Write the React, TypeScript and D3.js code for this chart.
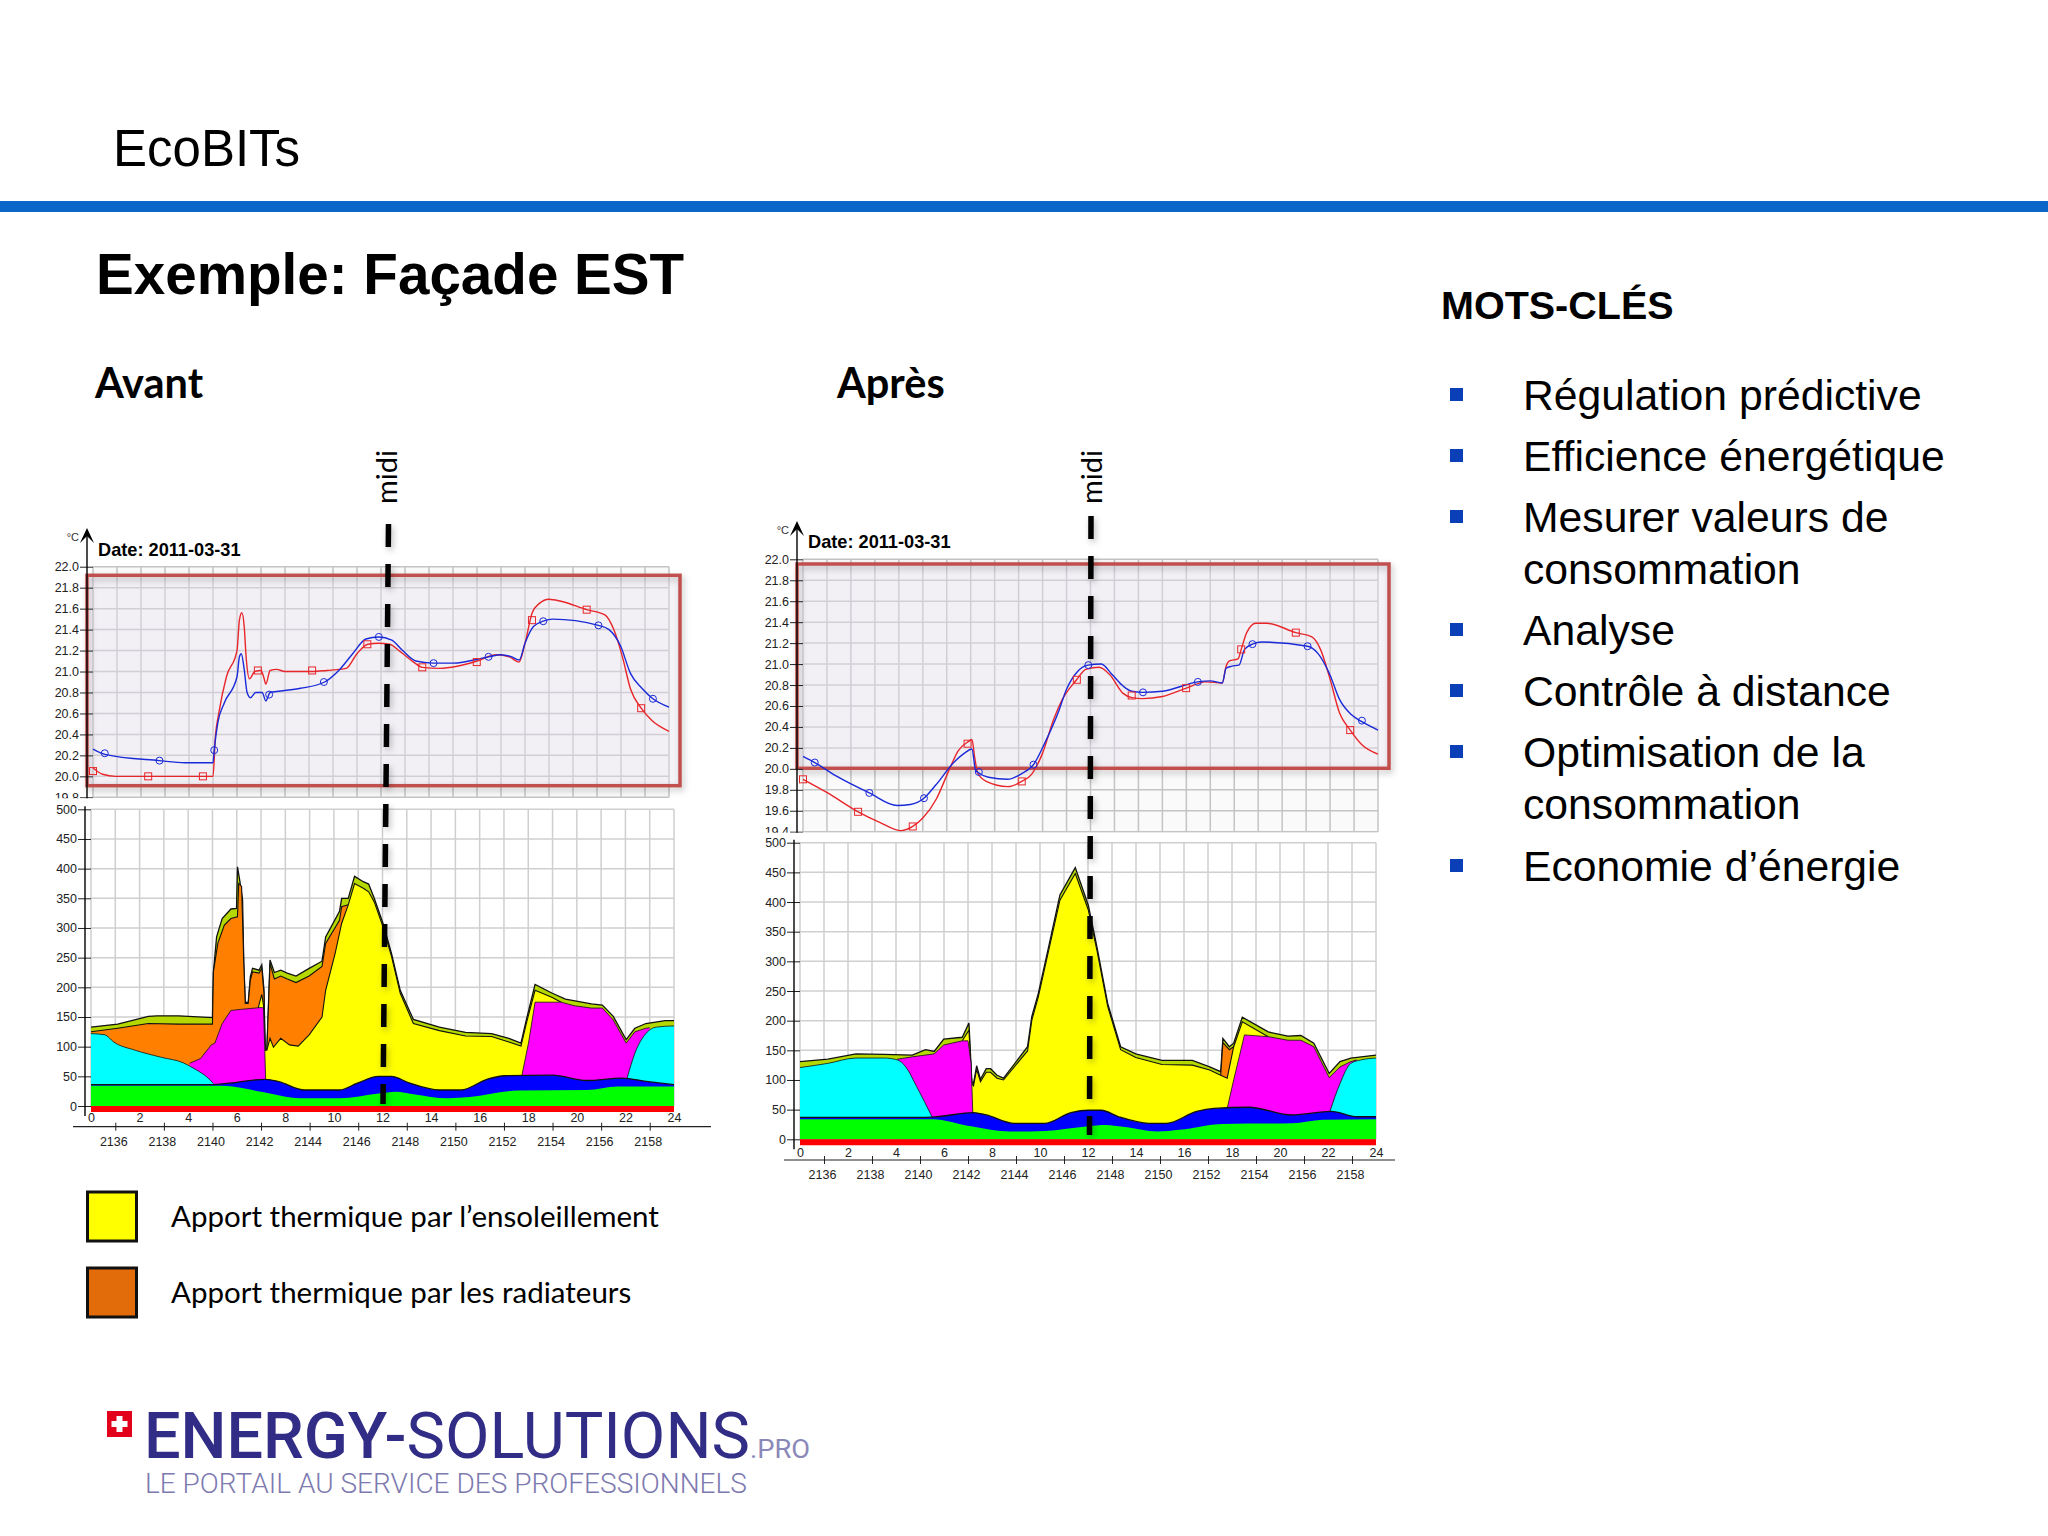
import { useEffect, useRef } from "react"
import * as d3 from "d3"

type Pt = [number, number]

// Temperature curves, [hour, deg C]
const avantRed: Pt[] = [[0,20.08],[0.4,20.02],[0.94,20.0],[5.0,20.0],[5.1,20.38],[5.24,20.6],[5.56,20.95],[6,21.2],[6.1,21.49],[6.2,21.56],[6.3,21.43],[6.38,21.14],[6.52,20.93],[6.74,21.0],[7.0,21.01],[7.12,20.94],[7.2,20.88],[7.38,21.01],[7.65,21.02],[8.0,21.0],[9.13,21.0],[9.73,21.01],[10.55,21.03],[11,21.17],[11.45,21.26],[11.9,21.27],[12.36,21.26],[12.8,21.19],[13.36,21.09],[13.72,21.04],[14.45,21.03],[15.17,21.05],[16,21.1],[16.8,21.16],[17.35,21.14],[17.75,21.09],[18,21.27],[18.3,21.56],[18.6,21.65],[19,21.69],[19.5,21.67],[20.57,21.59],[21.33,21.54],[21.7,21.4],[22.06,21.14],[22.4,20.83],[22.84,20.65],[23.3,20.53],[24,20.43]]
const avantBlue: Pt[] = [[0,20.26],[0.5,20.21],[2.75,20.15],[3.84,20.13],[5,20.13],[5.05,20.25],[5.2,20.51],[5.47,20.7],[6,20.95],[6.1,21.14],[6.18,21.17],[6.3,21.02],[6.42,20.8],[6.56,20.75],[6.78,20.8],[7.05,20.8],[7.2,20.72],[7.38,20.8],[7.65,20.81],[8.65,20.84],[9.65,20.9],[10.28,21.02],[10.82,21.17],[11.37,21.31],[11.9,21.33],[12.45,21.3],[12.9,21.2],[13.45,21.1],[14.17,21.08],[15,21.08],[16.48,21.14],[17,21.16],[17.45,21.14],[17.76,21.11],[18,21.27],[18.35,21.43],[18.76,21.48],[19.15,21.5],[21.06,21.44],[21.5,21.4],[21.97,21.25],[22.4,20.98],[22.87,20.84],[23.33,20.74],[24,20.66]]
const apresRed: Pt[] = [[0,19.9],[1.03,19.77],[2.3,19.59],[3.2,19.49],[4.1,19.41],[4.58,19.45],[5.0,19.53],[5.56,19.71],[6.1,19.99],[6.47,20.17],[6.9,20.26],[7.05,20.28],[7.16,20.12],[7.29,19.96],[7.65,19.88],[8.55,19.83],[9.13,19.88],[9.55,19.95],[10,20.15],[10.46,20.47],[10.82,20.66],[11.42,20.85],[11.8,20.95],[12.36,20.97],[12.8,20.9],[13.36,20.72],[13.72,20.68],[14.17,20.67],[15,20.69],[16,20.77],[16.8,20.83],[17.5,20.82],[17.66,20.98],[17.8,21.03],[18.16,21.05],[18.29,21.14],[18.52,21.3],[18.9,21.39],[19.35,21.39],[20.57,21.3],[21.24,21.26],[21.6,21.14],[21.97,20.88],[22.4,20.53],[22.84,20.37],[23.33,20.23],[24,20.14]]
const apresBlue: Pt[] = [[0,20.12],[0.49,20.06],[1.4,19.93],[2.77,19.77],[3.93,19.65],[4.48,19.66],[5.05,19.72],[5.56,19.85],[6.29,20.06],[6.74,20.15],[7.05,20.19],[7.2,19.99],[7.34,19.96],[7.74,19.92],[8.55,19.9],[9.1,19.95],[9.62,20.04],[10.1,20.25],[10.64,20.53],[11,20.76],[11.46,20.93],[11.9,20.99],[12.45,21.0],[12.9,20.9],[13.36,20.79],[13.72,20.74],[14.17,20.73],[15,20.74],[16.48,20.83],[17,20.84],[17.5,20.82],[17.66,20.96],[17.9,20.98],[18.2,20.99],[18.43,21.14],[18.76,21.19],[19.15,21.21],[21.06,21.17],[21.5,21.1],[21.97,20.91],[22.4,20.66],[22.87,20.52],[23.33,20.45],[24,20.37]]

// Marker positions along the curves
const redMarkerHours = [0, 2.3, 4.58, 6.87, 9.13, 11.43, 13.72, 15.99, 18.29, 20.57, 22.84]
const blueMarkerHours = [0.49, 2.77, 5.05, 7.34, 9.62, 11.91, 14.19, 16.48, 18.76, 21.06, 23.33]
const avantRedMarkers = [20.05, 20.0, 20.0, 21.01, 21.01, 21.26, 21.04, 21.09, 21.49, 21.59, 20.65]
const avantBlueMarkers = [20.22, 20.15, 20.25, 20.78, 20.9, 21.33, 21.08, 21.14, 21.48, 21.44, 20.74]
const apresRedMarkers = [19.9, 19.59, 19.45, 20.24, 19.88, 20.85, 20.7, 20.77, 21.14, 21.3, 20.37]
const apresBlueMarkers = [20.06, 19.77, 19.72, 19.97, 20.04, 20.99, 20.73, 20.83, 21.19, 21.17, 20.46]

// Energy layers, [hour, cumulated top value]
const avantTotal: Pt[] = [[0,133],[1.1,138],[2.36,151],[2.72,152],[3.61,152],[5.0,149],[5.04,226],[5.17,285],[5.4,316],[5.76,332],[5.99,333],[6.03,403],[6.12,381],[6.24,347],[6.29,240],[6.35,176],[6.47,173],[6.56,218],[6.65,232],[6.92,229],[7.03,238],[7.12,196],[7.17,94],[7.24,94],[7.37,246],[7.55,225],[7.81,229],[8.08,224],[8.44,219],[8.98,232],[9.51,244],[9.66,285],[10.23,328],[10.32,350],[10.59,350],[10.85,387],[11.21,378],[11.43,374],[11.66,350],[12.02,308],[12.37,257],[12.73,195],[13.27,146],[14.34,133],[15.42,124],[16.49,122],[17.2,114],[17.7,106],[17.92,145],[18.28,205],[18.99,190],[19.53,180],[20.6,172],[21.05,170],[21.5,151],[22.03,112],[22.39,131],[22.84,139],[23.64,144],[24,144]]
const avantOrange: Pt[] = [[0,125],[1.1,131],[2.36,139],[3.61,138],[5,138],[5.04,226],[5.22,274],[5.49,305],[5.76,316],[6.03,319],[6.08,375],[6.2,370],[6.29,240],[6.35,173],[6.47,173],[6.56,212],[6.65,226],[6.92,224],[7.03,232],[7.12,190],[7.17,94],[7.24,94],[7.37,240],[7.55,214],[7.81,219],[8.08,214],[8.44,208],[8.98,219],[9.51,235],[9.66,274],[10.23,313],[10.32,336],[10.59,339]]
const avantYellow: Pt[] = [[6.88,165],[7.03,188],[7.1,170],[7.17,94],[7.24,94],[7.37,114],[7.51,99],[7.81,114],[8.17,103],[8.53,101],[8.98,120],[9.51,150],[9.66,195],[10.05,257],[10.32,308],[10.59,339],[10.85,375],[11.21,367],[11.43,361],[11.66,344],[12.02,302],[12.37,252],[12.73,190],[13.27,139],[14.34,127],[15.42,118],[16.49,117],[17.2,108],[17.7,101],[17.92,139],[18.28,195],[18.99,183],[19.35,175]]
const avantMagenta1: Pt[] = [[4.06,72],[4.51,80],[4.95,103],[5.1,106],[5.4,139],[5.76,161],[6.2,163],[7.01,166],[7.1,165],[7.15,100],[7.19,44]]
const avantMagenta2: Pt[] = [[17.74,52],[18.01,106],[18.28,175],[19.35,175],[19.89,169],[20.6,165],[21.05,165],[21.5,145],[22.03,106],[22.39,125],[22.84,131],[23,132]]
const avantCyan1: Pt[] = [[0,122],[0.57,120],[0.93,108],[1.82,94],[2.9,82],[3.79,73],[4.33,61],[4.77,49],[5.04,38]]
const avantCyan2: Pt[] = [[22.07,47],[22.39,89],[22.84,122],[23.28,133],[24,135]]
const avantDarkBlue: Pt[] = [[0,36],[5,36],[5.58,38],[7.19,45],[7.73,41],[8.8,27],[10.23,27],[10.94,38],[11.84,50],[12.37,50],[13.09,39],[14.34,27],[15.24,27],[16.3,45],[17.02,51],[18.99,52],[20.42,43],[21.85,47],[22.93,41],[24,36]]
const avantGreen: Pt[] = [[0,34],[5.4,34],[7.01,24],[8.62,13],[10.23,13],[11.84,21],[12.55,24],[13.27,20],[14.7,13],[15.59,15],[17.56,26],[20.42,27],[21.67,33],[24,33]]

const apresTotal: Pt[] = [[0,131],[1.16,135],[2.33,144],[3.51,143],[4.68,142],[5.23,151],[5.59,148],[5.99,169],[6.76,172],[7.04,196],[7.16,97],[7.23,94],[7.36,124],[7.52,101],[7.76,119],[7.94,119],[8.21,108],[8.48,103],[9.48,156],[9.66,207],[9.93,246],[10.38,328],[10.83,412],[11.47,458],[12.01,395],[12.37,325],[12.82,229],[13.36,156],[13.99,144],[15.08,133],[16.35,133],[17.07,122],[17.53,114],[17.62,170],[17.89,156],[18.07,162],[18.43,206],[19.51,181],[20.33,174],[20.87,175],[21.41,162],[22.05,111],[22.5,131],[22.95,137],[24,142]]
const apresOrange: Pt[] = [[17.53,108],[17.62,163],[17.89,151],[18.07,156],[18.2,170]]
const apresYellow: Pt[] = [[6.76,166],[7.04,184],[7.16,93],[7.23,90],[7.36,118],[7.52,97],[7.76,113],[7.94,113],[8.21,103],[8.48,100],[9.48,149],[9.66,201],[9.93,240],[10.38,322],[10.83,403],[11.47,448],[12.01,387],[12.37,319],[12.82,224],[13.36,151],[13.99,138],[15.08,126],[16.35,125],[17.07,117],[17.53,108],[17.8,103],[18.07,156],[18.43,198],[19.51,173]]
const apresMagenta1: Pt[] = [[4.05,135],[4.68,139],[5.59,144],[5.99,159],[6.76,166],[7.0,166],[7.13,128],[7.2,44]]
const apresMagenta2: Pt[] = [[17.8,52],[18.07,100],[18.52,176],[19.51,173],[20.33,167],[20.87,167],[21.41,156],[22.05,104],[22.5,122],[22.95,131],[23.2,134]]
const apresCyan1: Pt[] = [[0,121],[1.16,128],[2.33,137],[3.51,137],[4.05,134],[4.41,122],[4.86,89],[5.5,38]]
const apresCyan2: Pt[] = [[22.08,47],[22.5,94],[22.95,128],[23.4,134],[24,137]]
const apresDarkBlue: Pt[] = [[0,37],[5.13,37],[5.68,38],[7.22,45],[7.76,41],[8.93,27],[10.2,27],[11.29,45],[12.01,49],[12.55,49],[13.28,38],[14.54,27],[15.27,27],[16.53,47],[17.25,52],[18.7,54],[20.51,41],[22.14,47],[23.22,38],[24,38]]
const apresGreen: Pt[] = [[0,34],[5.5,34],[7.13,22],[8.75,13],[10.2,14],[12.01,22],[12.73,24],[13.46,21],[14.9,13],[15.81,16],[17.62,26],[20.51,27],[21.78,33],[24,34]]

const baseBand: Pt[] = [[0,-10],[24,-10]]

const tempTicks = [19.4, 19.6, 19.8, 20.0, 20.2, 20.4, 20.6, 20.8, 21.0, 21.2, 21.4, 21.6, 21.8, 22.0]
const energyTicks = [0, 50, 100, 150, 200, 250, 300, 350, 400, 450, 500]
const evenHours = [0, 2, 4, 6, 8, 10, 12, 14, 16, 18, 20, 22, 24]
const oddHours = [1, 3, 5, 7, 9, 11, 13, 15, 17, 19, 21, 23]
const indexLabels = ["2136", "2138", "2140", "2142", "2144", "2146", "2148", "2150", "2152", "2154", "2156", "2158"]
const allHours = d3.range(0, 25)

const keywords = [
  { lines: ["Régulation prédictive"], y: 410 },
  { lines: ["Efficience énergétique"], y: 471 },
  { lines: ["Mesurer valeurs de", "consommation"], y: 532 },
  { lines: ["Analyse"], y: 645 },
  { lines: ["Contrôle à distance"], y: 706 },
  { lines: ["Optimisation de la", "consommation"], y: 767 },
  { lines: ["Economie d’énergie"], y: 881 },
]

const SANS = "'Liberation Sans', Arial, sans-serif"
const LATO = "Lato, sans-serif"

const layerColors = {
  total: "#b4d800",
  orange: "#ff8000",
  yellow: "#ffff00",
  magenta: "#ff00ff",
  cyan: "#00ffff",
  blue: "#0000ff",
  green: "#00ff00",
  red: "#ff0000",
}

function drawPanel(svg: any, p: any) {
  const g = svg.append("g")

  // temperature plot
  const xT = d3.scaleLinear().domain([0, 24]).range([p.tLeft, p.tRight])
  const yT = d3.scaleLinear().domain([p.tMin, 22]).range([p.tBottom, p.tTop])
  const ticksT = tempTicks.filter((t) => t >= p.tMin)

  g.append("rect")
    .attr("x", p.tLeft)
    .attr("y", p.tTop)
    .attr("width", p.tRight - p.tLeft)
    .attr("height", p.tBottom - p.tTop)
    .attr("fill", "#fafafb")

  g.append("g")
    .selectAll("line")
    .data(allHours)
    .enter()
    .append("line")
    .attr("x1", (d: number) => xT(d))
    .attr("x2", (d: number) => xT(d))
    .attr("y1", p.tTop)
    .attr("y2", p.tBottom)
    .attr("stroke", "#c4c4c4")
    .attr("stroke-width", 1.5)
  g.append("g")
    .selectAll("line")
    .data(ticksT)
    .enter()
    .append("line")
    .attr("x1", p.tLeft)
    .attr("x2", p.tRight)
    .attr("y1", (d: number) => yT(d))
    .attr("y2", (d: number) => yT(d))
    .attr("stroke", "#c4c4c4")
    .attr("stroke-width", 1.5)

  // highlighted band with the red frame
  g.append("rect")
    .attr("x", p.frame[0])
    .attr("y", p.frame[1])
    .attr("width", p.frame[2] - p.frame[0])
    .attr("height", p.frame[3] - p.frame[1])
    .attr("fill", "#e6e0ee")
    .attr("fill-opacity", 0.4)
  g.append("rect")
    .attr("x", p.frame[0])
    .attr("y", p.frame[1])
    .attr("width", p.frame[2] - p.frame[0])
    .attr("height", p.frame[3] - p.frame[1])
    .attr("fill", "none")
    .attr("stroke", "#c0504d")
    .attr("stroke-width", 3.5)
    .attr("filter", "url(#soft)")

  const line = d3
    .line<Pt>()
    .x((d) => xT(d[0]))
    .y((d) => yT(d[1]))
    .curve(d3.curveMonotoneX)
  g.append("path").datum(p.red).attr("d", line).attr("fill", "none").attr("stroke", "#e8262a").attr("stroke-width", 1.4)
  g.append("path").datum(p.blue).attr("d", line).attr("fill", "none").attr("stroke", "#1a2ad8").attr("stroke-width", 1.4)

  g.append("g")
    .selectAll("rect")
    .data(p.redMarkers)
    .enter()
    .append("rect")
    .attr("x", (_: number, i: number) => xT(redMarkerHours[i]) - 3.5)
    .attr("y", (d: number) => yT(d) - 3.5)
    .attr("width", 7)
    .attr("height", 7)
    .attr("fill", "none")
    .attr("stroke", "#e8262a")
    .attr("stroke-width", 1)
  g.append("g")
    .selectAll("ellipse")
    .data(p.blueMarkers)
    .enter()
    .append("ellipse")
    .attr("cx", (_: number, i: number) => xT(blueMarkerHours[i]))
    .attr("cy", (d: number) => yT(d))
    .attr("rx", 3.5)
    .attr("ry", 3.5)
    .attr("fill", "none")
    .attr("stroke", "#1a2ad8")
    .attr("stroke-width", 1)

  const axT = g
    .append("g")
    .attr("transform", `translate(${p.tLeft},0)`)
    .call(
      d3
        .axisLeft(yT)
        .tickValues(ticksT)
        .tickSize(13)
        .tickPadding(1)
        .tickFormat((d: any) => d3.format(".1f")(d)),
    )
  axT.select(".domain").remove()
  axT.selectAll("line").attr("stroke", "#222")
  axT.selectAll("text").attr("font-family", SANS).attr("font-size", 12.5).attr("fill", "#222")

  // covers the clipped last tick label, as in the source image
  g.append("rect")
    .attr("x", p.tAxis - 45)
    .attr("y", p.tBottom + 1)
    .attr("width", p.tRight - p.tAxis + 80)
    .attr("height", p.eTop - p.tBottom - 1)
    .attr("fill", "#fff")

  g.append("line")
    .attr("x1", p.tAxis)
    .attr("x2", p.tAxis)
    .attr("y1", p.arrowTop + 6)
    .attr("y2", p.tBottom + 1)
    .attr("stroke", "#000")
    .attr("stroke-width", 1.4)
  g.append("path")
    .attr("d", `M${p.tAxis - 7},${p.arrowTop + 15}L${p.tAxis},${p.arrowTop}L${p.tAxis + 7},${p.arrowTop + 15}L${p.tAxis},${p.arrowTop + 8}Z`)
    .attr("fill", "#000")
  g.append("text")
    .attr("x", p.tAxis - 8)
    .attr("y", p.arrowTop + 13)
    .attr("text-anchor", "end")
    .attr("font-family", SANS)
    .attr("font-size", 11)
    .attr("fill", "#333")
    .text("°C")
  g.append("text")
    .attr("x", p.tAxis + 11)
    .attr("y", p.dateY)
    .attr("font-family", SANS)
    .attr("font-weight", "bold")
    .attr("font-size", 18.2)
    .text("Date: 2011-03-31")

  // energy plot
  const xE = d3.scaleLinear().domain([0, 24]).range([p.eLeft, p.eRight])
  const yE = d3.scaleLinear().domain([0, 500]).range([p.eZero, p.eTop])

  g.append("g")
    .selectAll("line")
    .data(allHours)
    .enter()
    .append("line")
    .attr("x1", (d: number) => xE(d))
    .attr("x2", (d: number) => xE(d))
    .attr("y1", p.eTop)
    .attr("y2", p.eZero)
    .attr("stroke", "#cfcfcf")
    .attr("stroke-width", 1.5)
  g.append("g")
    .selectAll("line")
    .data(energyTicks)
    .enter()
    .append("line")
    .attr("x1", p.eLeft)
    .attr("x2", p.eRight)
    .attr("y1", (d: number) => yE(d))
    .attr("y2", (d: number) => yE(d))
    .attr("stroke", "#cfcfcf")
    .attr("stroke-width", 1.5)

  p.layers.forEach((l: { data: Pt[]; color: string; outline: number; smooth?: boolean }) => {
    const curve = l.smooth ? d3.curveMonotoneX : d3.curveLinear
    const area = d3
      .area<Pt>()
      .x((d) => xE(d[0]))
      .y0(yE(0))
      .y1((d) => yE(d[1]))
      .curve(curve)
    const topLine = d3
      .line<Pt>()
      .x((d) => xE(d[0]))
      .y((d) => yE(d[1]))
      .curve(curve)
    g.append("path").datum(l.data).attr("d", area).attr("fill", l.color)
    g.append("path").datum(l.data).attr("d", topLine).attr("fill", "none").attr("stroke", "#111").attr("stroke-width", l.outline)
  })

  g.append("path")
    .datum(baseBand)
    .attr(
      "d",
      d3
        .area<Pt>()
        .x((d) => xE(d[0]))
        .y0(yE(0))
        .y1((d) => yE(d[1])),
    )
    .attr("fill", layerColors.red)

  const axE = g
    .append("g")
    .attr("transform", `translate(${p.eLeft},0)`)
    .call(d3.axisLeft(yE).tickValues(energyTicks).tickSize(13).tickPadding(1))
  axE.select(".domain").remove()
  axE.selectAll("line").attr("stroke", "#222")
  axE.selectAll("text").attr("font-family", SANS).attr("font-size", 12.5).attr("fill", "#222")

  g.append("line")
    .attr("x1", p.eAxis)
    .attr("x2", p.eAxis)
    .attr("y1", p.eTop - 3)
    .attr("y2", p.eZero + 10)
    .attr("stroke", "#000")
    .attr("stroke-width", 1.4)

  // hours just under the band, run indexes under the axis line
  const axHours = g
    .append("g")
    .attr("transform", `translate(0,${p.hoursY})`)
    .call(d3.axisBottom(xE).tickValues(evenHours).tickSize(0).tickPadding(0).tickFormat((d: any) => `${d}`))
  axHours.select(".domain").remove()
  axHours.selectAll("text").attr("font-family", SANS).attr("font-size", 12.5).attr("fill", "#222")

  const axIndex = g
    .append("g")
    .attr("transform", `translate(0,${p.indexAxisY})`)
    .call(
      d3
        .axisBottom(xE)
        .tickValues(oddHours)
        .tickSize(4)
        .tickPadding(6)
        .tickFormat((_: any, i: number) => indexLabels[i]),
    )
  axIndex.select(".domain").remove()
  axIndex.selectAll("line").attr("stroke", "#222").attr("y1", -4)
  axIndex.selectAll("text").attr("font-family", SANS).attr("font-size", 12.5).attr("fill", "#222").attr("dx", -2)
  g.append("line")
    .attr("x1", p.indexAxis[0])
    .attr("x2", p.indexAxis[1])
    .attr("y1", p.indexAxisY)
    .attr("y2", p.indexAxisY)
    .attr("stroke", "#222")
    .attr("stroke-width", 1.2)

  // noon marker
  g.append("line")
    .attr("x1", p.noon[0])
    .attr("y1", p.noon[1])
    .attr("x2", p.noon[2])
    .attr("y2", p.noon[3])
    .attr("stroke", "#000")
    .attr("stroke-width", 5.5)
    .attr("stroke-dasharray", "23 17")
    .attr("filter", "url(#soft)")
  g.append("text")
    .attr("transform", `translate(${p.midiX},477) rotate(-90)`)
    .attr("text-anchor", "middle")
    .attr("font-family", LATO)
    .attr("font-size", 29)
    .text("midi")

  g.append("text")
    .attr("x", p.titleX)
    .attr("y", 398)
    .attr("font-family", LATO)
    .attr("font-weight", "bold")
    .attr("font-size", 41.5)
    .text(p.title)
}

export default function App() {
  const svgRef = useRef<SVGSVGElement>(null)

  useEffect(() => {
    if (!svgRef.current) return
    const svg = d3.select(svgRef.current)
    svg.selectAll("*").remove()

    const soft = svg
      .append("defs")
      .append("filter")
      .attr("id", "soft")
      .attr("filterUnits", "userSpaceOnUse")
      .attr("x", 0)
      .attr("y", 0)
      .attr("width", 2048)
      .attr("height", 1536)
    soft
      .append("feDropShadow")
      .attr("dx", 2)
      .attr("dy", 3)
      .attr("stdDeviation", 3)
      .attr("flood-color", "#000")
      .attr("flood-opacity", 0.25)

    svg.append("rect").attr("width", 2048).attr("height", 1536).attr("fill", "#fff")

    // header
    svg.append("text").attr("x", 113).attr("y", 166).attr("font-family", SANS).attr("font-size", 51).text("EcoBITs")
    svg.append("rect").attr("x", 0).attr("y", 201).attr("width", 2048).attr("height", 11).attr("fill", "#0a66c8")
    svg
      .append("text")
      .attr("x", 96)
      .attr("y", 294)
      .attr("font-family", SANS)
      .attr("font-weight", "bold")
      .attr("font-size", 56.6)
      .text("Exemple: Façade EST")

    drawPanel(svg, {
      title: "Avant",
      titleX: 95,
      tLeft: 93,
      tRight: 669,
      tMin: 19.8,
      tTop: 566.7,
      tBottom: 797.3,
      tAxis: 87,
      arrowTop: 528,
      dateY: 556,
      frame: [87, 575.3, 680, 785.7],
      eLeft: 91,
      eRight: 674,
      eTop: 809.3,
      eZero: 1106,
      eAxis: 85,
      hoursY: 1113,
      indexAxisY: 1126.7,
      indexAxis: [73, 711],
      noon: [388.5, 524, 383, 1104],
      midiX: 397,
      red: avantRed,
      blue: avantBlue,
      redMarkers: avantRedMarkers,
      blueMarkers: avantBlueMarkers,
      layers: [
        { data: avantTotal, color: layerColors.total, outline: 1.3 },
        { data: avantOrange, color: layerColors.orange, outline: 1.1 },
        { data: avantYellow, color: layerColors.yellow, outline: 1.1 },
        { data: avantMagenta1, color: layerColors.magenta, outline: 0.8 },
        { data: avantMagenta2, color: layerColors.magenta, outline: 0.8 },
        { data: avantCyan1, color: layerColors.cyan, outline: 0.8, smooth: true },
        { data: avantCyan2, color: layerColors.cyan, outline: 0.8, smooth: true },
        { data: avantDarkBlue, color: layerColors.blue, outline: 1.3, smooth: true },
        { data: avantGreen, color: layerColors.green, outline: 0, smooth: true },
      ],
    })

    drawPanel(svg, {
      title: "Après",
      titleX: 837,
      tLeft: 803,
      tRight: 1378,
      tMin: 19.4,
      tTop: 559.3,
      tBottom: 831.7,
      tAxis: 797,
      arrowTop: 521,
      dateY: 548,
      frame: [797, 564, 1389, 768.3],
      eLeft: 800,
      eRight: 1376,
      eTop: 842.7,
      eZero: 1139.3,
      eAxis: 794,
      hoursY: 1148,
      indexAxisY: 1160,
      indexAxis: [784, 1395],
      noon: [1091, 516, 1089.5, 1135],
      midiX: 1102,
      red: apresRed,
      blue: apresBlue,
      redMarkers: apresRedMarkers,
      blueMarkers: apresBlueMarkers,
      layers: [
        { data: apresTotal, color: layerColors.total, outline: 1.3 },
        { data: apresOrange, color: layerColors.orange, outline: 1.1 },
        { data: apresYellow, color: layerColors.yellow, outline: 1.1 },
        { data: apresMagenta1, color: layerColors.magenta, outline: 0.8 },
        { data: apresMagenta2, color: layerColors.magenta, outline: 0.8 },
        { data: apresCyan1, color: layerColors.cyan, outline: 0.8, smooth: true },
        { data: apresCyan2, color: layerColors.cyan, outline: 0.8, smooth: true },
        { data: apresDarkBlue, color: layerColors.blue, outline: 1.3, smooth: true },
        { data: apresGreen, color: layerColors.green, outline: 0, smooth: true },
      ],
    })

    // legend
    const legend = [
      { color: "#ffff00", label: "Apport thermique par l’ensoleillement", y: 1191 },
      { color: "#e36c0a", label: "Apport thermique par les radiateurs", y: 1267 },
    ]
    legend.forEach((l) => {
      svg
        .append("rect")
        .attr("x", 87.5)
        .attr("y", l.y + 1)
        .attr("width", 49)
        .attr("height", 49)
        .attr("fill", l.color)
        .attr("stroke", "#111")
        .attr("stroke-width", 3)
      svg.append("text").attr("x", 171).attr("y", l.y + 36).attr("font-family", LATO).attr("font-size", 29.5).text(l.label)
    })

    // keywords column
    svg
      .append("text")
      .attr("x", 1441)
      .attr("y", 319)
      .attr("font-family", SANS)
      .attr("font-weight", "bold")
      .attr("font-size", 39.5)
      .text("MOTS-CLÉS")
    keywords.forEach((k) => {
      svg.append("rect").attr("x", 1450).attr("y", k.y - 22).attr("width", 13).attr("height", 13).attr("fill", "#0b3fb8")
      k.lines.forEach((t, i) => {
        svg
          .append("text")
          .attr("x", 1523)
          .attr("y", k.y + i * 51.5)
          .attr("font-family", SANS)
          .attr("font-size", 42.7)
          .text(t)
      })
    })

    // logo
    svg.append("rect").attr("x", 107).attr("y", 1411).attr("width", 25).attr("height", 26).attr("fill", "#e2001a")
    svg.append("rect").attr("x", 116.5).attr("y", 1416).attr("width", 6).attr("height", 16).attr("fill", "#fff")
    svg.append("rect").attr("x", 111.5).attr("y", 1421).attr("width", 16).attr("height", 6).attr("fill", "#fff")
    const logo = svg
      .append("text")
      .attr("x", 144)
      .attr("y", 1458)
      .attr("font-family", "Roboto, sans-serif")
      .attr("font-size", 65)
      .attr("fill", "#312c85")
      .attr("textLength", 606)
      .attr("lengthAdjust", "spacingAndGlyphs")
    logo.append("tspan").attr("font-weight", 500).text("ENERGY-")
    logo.append("tspan").attr("font-weight", 400).text("SOLUTIONS")
    svg
      .append("text")
      .attr("x", 750)
      .attr("y", 1458)
      .attr("font-family", "Roboto, sans-serif")
      .attr("font-size", 26)
      .attr("fill", "#8a88b8")
      .attr("textLength", 60)
      .attr("lengthAdjust", "spacingAndGlyphs")
      .text(".PRO")
    svg
      .append("text")
      .attr("x", 145)
      .attr("y", 1493)
      .attr("font-family", "Roboto, sans-serif")
      .attr("font-size", 27.5)
      .attr("font-weight", 300)
      .attr("fill", "#7d7ab0")
      .attr("textLength", 602)
      .attr("lengthAdjust", "spacingAndGlyphs")
      .text("LE PORTAIL AU SERVICE DES PROFESSIONNELS")
  }, [])

  return <svg ref={svgRef} width={2048} height={1536} style={{ position: "absolute", left: 0, top: 0 }}></svg>
}
